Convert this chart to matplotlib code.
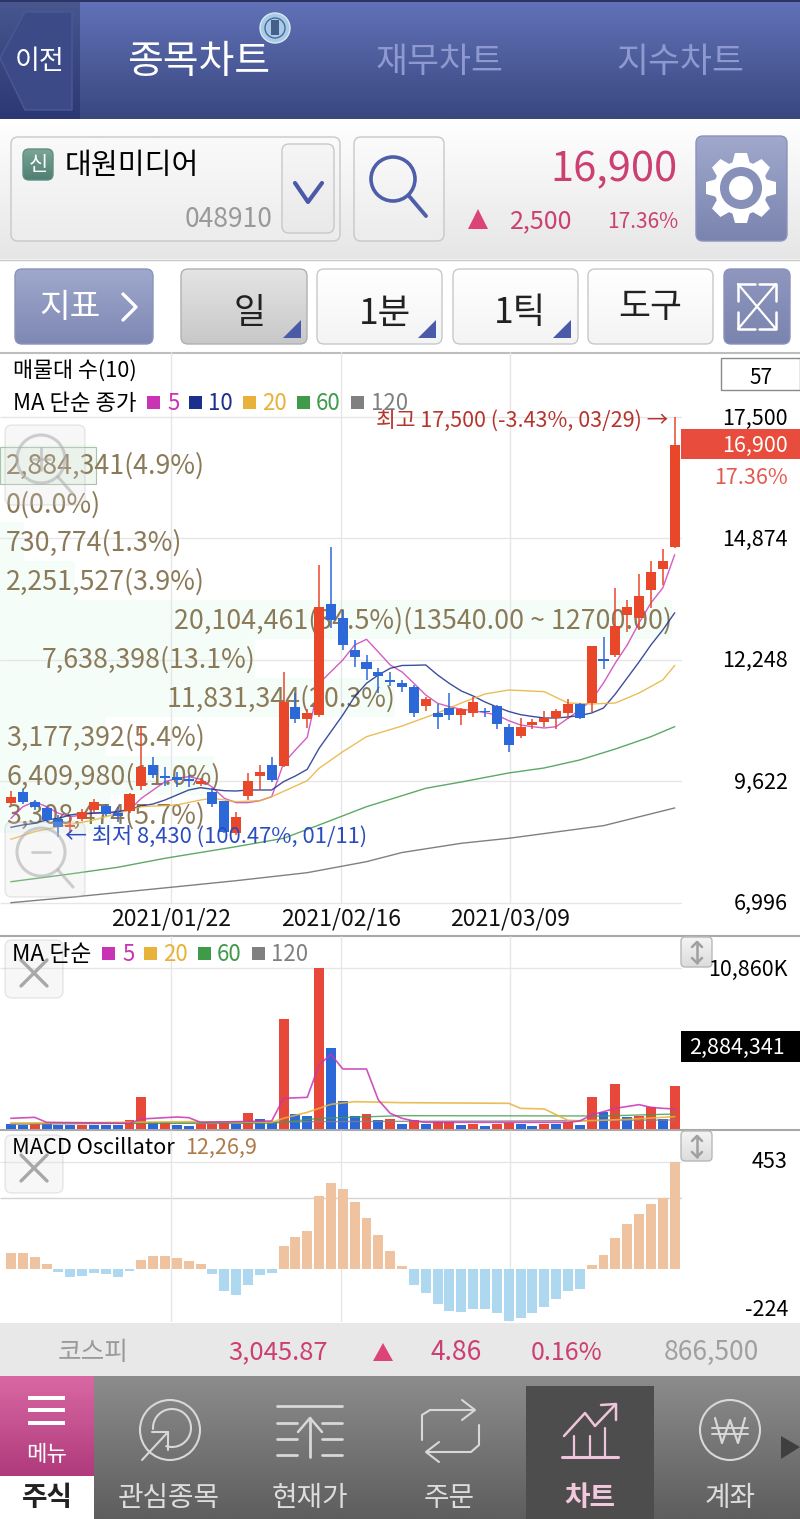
import numpy as np
import matplotlib
matplotlib.use("Agg")
import matplotlib.pyplot as plt
from matplotlib.patches import FancyBboxPatch, Polygon, Circle, Rectangle, Arc
from matplotlib.colors import to_rgb

plt.rcParams['font.family'] = ['Noto Sans CJK KR', 'DejaVu Sans']

# ---- data ----
high = [9420,9453,9222,9077,8898,8826,9027,9244,9136,9077,9367,10821,10145,9929,9834,9762,9691,9475,9207,8969,
        9812,9978,10145,11995,11529,11183,14301,14697,13329,12680,12356,12075,11989,11816,11708,11455,11297,11541,11204,11455,
        11204,11275,10865,10987,10966,11153,11183,11399,11312,12551,12752,13798,13545,14100,14394,14647,17500]
low = [9114,9136,9006,8753,8430,8515,8775,8969,8876,8753,8948,9438,9691,9525,9509,9496,9525,9064,8509,8466,
       9222,9438,9617,9942,10893,10772,11023,12940,12464,12103,11816,11535,11686,11563,11016,11153,10750,10952,10843,11009,
       11009,10750,10267,10556,10750,10793,10750,10966,10966,11131,12047,12320,12860,12897,13366,13869,14675]
body_top = [9293,9401,9185,9049,8805,8688,8969,9185,9092,8935,9352,9929,9978,9741,9713,9669,9639,9401,9207,8861,
            9639,9834,9978,11347,11239,11096,13400,13459,13149,12464,12212,11995,11816,11758,11658,11399,11096,11204,11189,11347,
            11153,11254,10807,10793,10915,10987,11153,11297,11297,12551,12263,12983,13400,13638,14144,14394,16900]
body_bot = [9164,9185,9077,8790,8645,8645,8805,9006,8919,8883,8978,9525,9762,9697,9654,9639,9568,9146,8537,8502,
            9308,9747,9654,9957,10967,10967,11060,13113,12572,12320,12047,11902,11779,11671,11109,11254,11023,11060,11060,11109,
            11124,10858,10412,10606,10843,10915,10987,11109,10987,11312,12220,12356,13221,13149,13761,14215,14697]
is_up = [1,0,0,0,0,1,1,1,0,0,1,1,0,0,0,0,1,0,0,1,
         1,1,0,1,0,1,1,0,0,0,0,0,0,0,0,1,0,0,1,1,
         0,0,0,1,1,1,1,1,0,1,0,1,1,1,1,1,1]

ma5 = [8826,9077,9185,9077,8935,8861,8898,8948,8948,8948,9006,9259,9438,9618,9691,9726,9669,9496,9259,9164,
       9164,9207,9293,10015,10303,10577,11744,11995,12248,12572,12695,12421,12140,11988,11744,11491,11312,11238,11182,11152,
       11109,11059,10936,10843,10806,10778,10806,10988,11167,11383,11751,12183,12572,13047,13480,13804,14517]
ma10 = [8632,8682,8718,8790,8826,8898,8935,8935,8948,8969,9021,9092,9136,9222,9330,9438,9488,9453,9423,9416,
        9438,9438,9438,9618,9741,9885,10339,10698,11059,11455,11744,11924,12068,12129,12133,12140,11924,11740,11578,11470,
        11340,11232,11135,11066,11027,10994,10994,11016,11048,11102,11210,11513,11859,12205,12572,12896,13264]
ma20_x = [0,2,4,7,10,11,14,16,17,19,21,22,25,26,28,30,33,36,38,40,42,45,47,49,51,53,55,56]
ma20 = [8373,8537,8645,8790,9006,9077,9114,9222,9259,9185,9207,9293,9639,9907,10266,10590,10821,11102,11318,11513,11599,11563,11318,11297,11318,11534,11816,12125]
ma60_x = [0,5,9,13,19,23,26,30,33,35,38,42,45,48,51,54,56]
ma60 = [7456,7623,7767,7962,8213,8394,8682,9077,9315,9475,9611,9806,9914,10087,10324,10590,10806]
ma120_x = [0,5,14,19,25,30,33,38,42,50,56]
ma120 = [7002,7119,7348,7478,7651,7889,8087,8286,8394,8667,9049]

band_tops = [16900,16060,15220,14380,13540,12700,11860,11020,10180,9340]
band_vols = [2884341,0,730774,2251527,20104461,7638398,11831344,3177392,6409980,3308474]
band_labels = ['2,884,341(4.9%)','0(0.0%)','730,774(1.3%)','2,251,527(3.9%)','20,104,461(34.5%)(13540.00 ~ 12700.00)',
               '7,638,398(13.1%)','11,831,344(20.3%)','3,177,392(5.4%)','6,409,980(11.0%)','3,308,474(5.7%)']

volume = [360,270,405,315,270,270,248,270,248,248,608,2140,473,473,270,225,315,315,405,338,
          1104,653,496,7435,1036,901,10860,5452,1893,901,1014,608,653,360,586,315,496,496,270,360,
          225,315,405,360,225,360,315,451,270,2185,1172,3042,834,856,1464,676,2884]
vol_up = [0,0,1,0,0,0,1,0,0,0,1,1,0,1,0,0,1,1,1,0,
          1,0,0,1,0,0,1,0,0,0,1,0,1,0,1,0,1,1,0,1,
          0,1,1,0,0,1,0,1,0,1,0,1,0,1,1,0,1]
vma5_x = [0,2,3,10,11,14,15,16,22,23,25,26,27,28,30,31,32,33,34,35,47,48,49,50,51,53,54,55,56]
vma5 = [721,789,451,383,676,811,766,451,541,2073,2140,4326,5047,4055,4055,1960,1059,721,541,451,451,541,946,1172,1397,1645,1464,1397,1352]
vma20_x = [0,15,22,23,25,27,29,33,42,43,45,47,48,52,56]
vma20 = [383,496,451,721,1127,1667,1847,1780,1735,1397,1352,586,541,653,834]
vma60_x = [0,22,26,33,50,56]
vma60 = [383,383,721,901,879,1014]
vma120_x = [0,25,42,56]
vma120 = [315,496,541,608]

macd = [65,65,51,18,-14,-34,-30,-17,-23,-34,-11,37,52,52,44,31,20,-24,-93,-110,
        -68,-28,-17,97,135,159,309,364,339,284,213,141,75,13,-68,-103,-151,-178,-182,-169,
        -171,-188,-222,-209,-188,-162,-128,-93,-87,16,56,128,190,233,275,301,453]

price_ticks = [17500,14874,12248,9622,6996]
price_labels = ['17,500','14,874','12,248','9,622','6,996']
date_pos = [13.5,27.85,42.13]
date_labels = ['2021/01/22','2021/02/16','2021/03/09']

RED = '#e8472a'
BLUE = '#2c68d8'
VRED = '#e8483a'
PINK = '#cc3f72'
MAGENTA = '#c934b4'
NAVY = '#1c2f8c'
TAN = '#e8b23a'
GREEN = '#3f9b4a'
GRAY = '#808080'
GRID = '#e6e6e6'
W, H = 800, 1519
PITCH = 11.85
xlim = ((0-11)/PITCH, (682-11)/PITCH)
idx = np.arange(len(macd))

fig = plt.figure(figsize=(8, 15.19), dpi=100)

def make_px_axes(z):
    a = fig.add_axes([0, 0, 1, 1], zorder=z)
    a.set_xlim(0, W)
    a.set_ylim(H, 0)
    a.axis('off')
    return a

def panel(top, bottom, z):
    a = fig.add_axes([0, 1-bottom/H, 682/W, (bottom-top)/H], zorder=z)
    a.patch.set_alpha(0)
    a.set_xlim(*xlim)
    a.set_xticks([])
    a.set_yticks([])
    for s in a.spines.values():
        s.set_visible(False)
    return a

def grad(a, x0, y0, x1, y1, c0, c1, clip=None, z=1):
    n = 64
    t = np.linspace(0, 1, n)[:, None, None]
    img = (1-t)*np.array(to_rgb(c0))[None, None, :] + t*np.array(to_rgb(c1))[None, None, :]
    im = a.imshow(img, extent=(x0, x1, y1, y0), aspect='auto', zorder=z, interpolation='bilinear')
    a.set_xlim(0, W)
    a.set_ylim(H, 0)
    if clip is not None:
        im.set_clip_path(clip)
    return im

def button(a, x0, y0, x1, y1, c0, c1, edge='#c8c8c8', r=7, z=2):
    box = FancyBboxPatch((x0+r, y0+r), x1-x0-2*r, y1-y0-2*r, boxstyle='round,pad=%d,rounding_size=%d' % (r, r),
                         fc='none', ec=edge, lw=1, zorder=z+0.1)
    a.add_patch(box)
    grad(a, x0, y0, x1, y1, c0, c1, clip=box, z=z)

def tx(a, x, y, s, size, color='black', ha='left', weight='normal', z=10, alpha=None):
    a.text(x, y+1.5, s, fontsize=size, color=color, ha=ha, va='center', fontweight=weight, zorder=z, alpha=alpha)

def line(a, xs, ys, color, lw=1.5, z=6, alpha=None):
    a.plot(xs, ys, color=color, lw=lw, zorder=z, solid_capstyle='round', alpha=alpha)

# ---- background chrome ----
bg = make_px_axes(0)
bg.add_patch(Rectangle((0, 0), W, H, fc='white', zorder=0))
grad(bg, 0, 0, W, 119, '#6272b8', '#39477f')
grad(bg, 0, 0, 80, 119, '#48578f', '#2c3873', z=1.5)
bg.add_patch(Rectangle((0, 0), W, 1.5, fc='#2b3566', zorder=2))
bg.add_patch(Polygon([(0, 58), (25, 12), (72, 12), (72, 110), (25, 110)], closed=True, fc='#3d4a88', ec='#4a5896', lw=1, zorder=2))
tx(bg, 40, 60, '이전', 19.5, 'white', 'center')
tx(bg, 199, 61, '종목차트', 28, 'white', 'center', 'medium')
tx(bg, 440, 61, '재무차트', 25, '#8d99cf', 'center')
tx(bg, 680, 61, '지수차트', 25, '#8d99cf', 'center')
bg.add_patch(Circle((275, 28), 15, fc='#a9cbe8', ec='#d8e8f5', lw=1, zorder=3))
bg.add_patch(Circle((275, 28), 10, fc='none', ec='#4a6a9a', lw=1, zorder=4))
bg.add_patch(Rectangle((271, 20), 8, 15, fc='#44608a', zorder=4))

grad(bg, 0, 119, W, 259, '#ffffff', '#e6e6e6')
bg.plot([0, W], [259.5, 259.5], color='#c8c8c8', lw=1, zorder=2)
button(bg, 11, 137, 340, 241, '#fafafa', '#ececec')
button(bg, 23, 149, 53, 180, '#7ba597', '#4f7f72', edge='#5f8f82', r=6)
tx(bg, 38, 164, '신', 15, 'white', 'center')
tx(bg, 65, 164, '대원미디어', 21)
tx(bg, 272, 218, '048910', 19, '#999999', 'right')
button(bg, 282, 144, 334, 233, '#f6f6f6', '#e9e9e9')
line(bg, [295, 308, 322], [183, 202, 183], '#4a5aa8', 3, 5)
button(bg, 354, 137, 444, 241, '#fbfbfb', '#ececec')
bg.add_patch(Circle((393, 179), 22, fc='none', ec='#4f5ea8', lw=2.6, zorder=5))
line(bg, [409, 426], [196, 216], '#4f5ea8', 2.8, 5)
tx(bg, 678, 168, '16,900', 30, PINK, 'right')
bg.add_patch(Polygon([(468, 229), (478, 209), (488, 229)], fc='#db4379', zorder=5))
tx(bg, 572, 220, '2,500', 18, PINK, 'right')
tx(bg, 678, 220, '17.36%', 15, PINK, 'right')
button(bg, 696, 136, 787, 241, '#a0a8cc', '#7a84ae', edge='#8a93bb')
gx, gy = 741, 188
for ang in np.arange(0, 360, 45):
    c, s = np.cos(np.radians(ang)), np.sin(np.radians(ang))
    bg.add_patch(Polygon([(gx+24*c-9*s, gy+24*s+9*c), (gx+35*c-6*s, gy+35*s+6*c), (gx+35*c+6*s, gy+35*s-6*c), (gx+24*c+9*s, gy+24*s-9*c)], fc='white', zorder=5))
bg.add_patch(Circle((gx, gy), 27, fc='white', zorder=5))
bg.add_patch(Circle((gx, gy), 21, fc='#8790b8', zorder=6))
bg.add_patch(Circle((gx, gy), 12, fc='white', zorder=7))

button(bg, 15, 269, 153, 344, '#9fa8cc', '#7e88b4', edge='#8a93bb')
tx(bg, 70, 306, '지표', 24, 'white', 'center')
line(bg, [123, 136, 123], [294, 307, 320], 'white', 2.4, 5)
button(bg, 181, 269, 307, 344, '#e4e4e4', '#c8c8c8', edge='#b0b0b0')
for x0, x1 in [(317, 442), (453, 578), (588, 713)]:
    button(bg, x0, 269, x1, 344, '#ffffff', '#f4f4f4')
tx(bg, 250, 312, '일', 25, '#222222', 'center')
tx(bg, 385, 312, '1분', 25.5, '#222222', 'center')
tx(bg, 520, 312, '1틱', 25.5, '#222222', 'center')
tx(bg, 650, 306, '도구', 25, '#222222', 'center')
for xr in [301, 436, 571]:
    bg.add_patch(Polygon([(xr, 320), (xr, 338), (xr-18, 338)], fc='#4a5aa8', zorder=5))
button(bg, 724, 269, 790, 344, '#8f97bf', '#7a84ae', edge='#8a93bb')
line(bg, [738, 776], [284, 329], 'white', 1.6, 5)
line(bg, [776, 738], [284, 329], 'white', 1.6, 5)
for px, py, dx, dy in [(738, 284, 1, 1), (776, 284, -1, 1), (738, 329, 1, -1), (776, 329, -1, -1)]:
    line(bg, [px+dx*17, px, px], [py, py, py+dy*17], 'white', 1.8, 5)

bg.plot([0, W], [352.5, 352.5], color='#bdbdbd', lw=1.5, zorder=2)
bg.plot([0, W], [935.5, 935.5], color='#a8a8a8', lw=1.5, zorder=2)
bg.plot([0, W], [1129.5, 1129.5], color='#a8a8a8', lw=1.5, zorder=2)

# bottom status and nav
bg.add_patch(Rectangle((0, 1323), W, 53, fc='#e8e8e8', zorder=1))
tx(bg, 93, 1352, '코스피', 18.5, '#9a9a9a', 'center')
tx(bg, 278, 1351, '3,045.87', 18.5, PINK, 'center')
bg.add_patch(Polygon([(373, 1361), (383, 1343), (393, 1361)], fc='#db4379', zorder=5))
tx(bg, 456, 1351, '4.86', 19, PINK, 'center')
tx(bg, 567, 1351, '0.16%', 18, PINK, 'center')
tx(bg, 711, 1351, '866,500', 19, '#a0a0a0', 'center')
grad(bg, 0, 1376, W, 1519, '#8c8c8c', '#5e5e5e')
grad(bg, 0, 1376, 94, 1476, '#d868a4', '#b03a7c', z=2)
bg.add_patch(Rectangle((0, 1476), 94, 43, fc='white', zorder=2))
for yy in [1398, 1410, 1423]:
    bg.add_patch(Rectangle((28, yy-1.8), 37, 3.6, fc='white', zorder=3))
tx(bg, 47, 1453, '메뉴', 16, 'white', 'center')
tx(bg, 47, 1497, '주식', 20, '#222222', 'center', 'bold')
bg.add_patch(Rectangle((526, 1386), 128, 133, fc='#4d4d4d', zorder=2))
tx(bg, 169, 1497, '관심종목', 20, '#dddddd', 'center')
tx(bg, 310, 1497, '현재가', 20, '#dddddd', 'center')
tx(bg, 449, 1497, '주문', 20, '#dddddd', 'center')
tx(bg, 590, 1497, '차트', 20, '#f2c8dc', 'center', 'bold')
tx(bg, 730, 1497, '계좌', 20, '#dddddd', 'center')
ICON = '#d8d8d8'
bg.add_patch(Circle((170, 1430), 30, fc='none', ec=ICON, lw=1.5, zorder=5))
bg.add_patch(Arc((172, 1428), 38, 38, angle=0, theta1=175, theta2=470, ec=ICON, lw=1.5, zorder=5))
line(bg, [142, 168], [1460, 1432], ICON, 1.5)
line(bg, [152, 168, 168], [1432, 1432, 1450], ICON, 1.5)
line(bg, [277, 342], [1406, 1406], ICON, 2)
line(bg, [310, 310], [1457, 1418], ICON, 2)
line(bg, [298, 310, 322], [1432, 1418, 1432], ICON, 1.8)
for yy in [1423, 1439, 1455]:
    line(bg, [277, 297], [yy, yy], ICON, 2)
    line(bg, [322, 342], [yy, yy], ICON, 2)
line(bg, [422, 422, 430, 474], [1440, 1415, 1410, 1410], ICON, 1.5)
line(bg, [462, 475, 462], [1400, 1410, 1420], ICON, 1.5)
line(bg, [479, 479, 471, 427], [1425, 1445, 1452, 1452], ICON, 1.5)
line(bg, [439, 426, 439], [1442, 1452, 1462], ICON, 1.5)
CH = '#f0c4da'
line(bg, [562, 618], [1457, 1457], CH, 2.2)
for xx in [574, 590]:
    line(bg, [xx, xx], [1457, 1436], CH, 1.6)
line(bg, [605, 605], [1457, 1428], CH, 1.6)
line(bg, [564, 585, 595, 615], [1436, 1413, 1426, 1405], CH, 1.8)
line(bg, [601, 616, 616], [1405, 1404, 1420], CH, 1.8)
bg.add_patch(Circle((730, 1430), 30, fc='none', ec=ICON, lw=1.5, zorder=5))
line(bg, [715, 722, 730, 738, 745], [1418, 1443, 1420, 1443, 1418], ICON, 1.6)
line(bg, [712, 748], [1428, 1428], ICON, 1.4)
line(bg, [712, 748], [1434, 1434], ICON, 1.4)
bg.add_patch(Polygon([(781, 1436), (800, 1447), (781, 1459)], fc='#3f3f3f', zorder=5))

# ---- price panel ----
vp = panel(352, 935, 1)
vp.set_ylim(6304, 18904)
vp.set_xlim(0, 20104461*682/672)
vp.barh(band_tops, band_vols, height=-840, align='edge', color='#f5fdf8', zorder=1)
vp.barh(band_tops[0]-40, band_vols[0], height=-800, align='edge', fc='#f0f7f0', ec='#a6c4aa', lw=0.8, zorder=1)

pr = panel(352, 935, 2)
pr.set_ylim(6304, 18904)
pr.hlines(price_ticks, xlim[0], xlim[1], color=GRID, lw=1, zorder=1)
pr.vlines(date_pos, 6996, 18904, color=GRID, lw=1, zorder=1)
# volume-profile labels sit under the candles
for k, s in enumerate(band_labels):
    yc = band_tops[k]-455
    bar_end = band_vols[k]/20104461*672
    if k in (4, 5, 6):
        pr.text((bar_end-11)/PITCH, yc, s, fontsize=19.3, color='#8a7a58', ha='right', va='center', zorder=2)
    else:
        pr.text((6-11)/PITCH, yc, s, fontsize=19.3, color='#8a7a58', ha='left', va='center', zorder=2)
pr.plot(idx, ma5, color=MAGENTA, lw=1, zorder=4, alpha=0.8)
pr.plot(idx, ma10, color=NAVY, lw=1, zorder=4, alpha=0.85)
pr.plot(ma20_x, ma20, color=TAN, lw=1, zorder=4, alpha=0.85)
pr.plot(ma60_x, ma60, color=GREEN, lw=1, zorder=4, alpha=0.85)
pr.plot(ma120_x, ma120, color=GRAY, lw=1, zorder=4)
up = np.array(is_up, dtype=bool)
cols = np.where(up, RED, BLUE)
pr.vlines(idx, low, high, colors=cols, lw=1.1, zorder=5)
pr.bar(idx, np.array(body_top)-np.array(body_bot), bottom=body_bot, width=0.85, color=cols, zorder=6)

# ---- volume panel ----
vo = panel(936, 1129, 2)
vo.set_ylim(0, 13043)
vo.hlines([10860], xlim[0], xlim[1], color=GRID, lw=1, zorder=1)
vo.vlines(date_pos, 0, 13043, color=GRID, lw=1, zorder=1)
vo.bar(idx, volume, width=0.84, color=np.where(np.array(vol_up, dtype=bool), VRED, BLUE), zorder=3)
vo.plot(vma120_x, vma120, color=GRAY, lw=1, zorder=4, alpha=0.8)
vo.plot(vma60_x, vma60, color=GREEN, lw=1, zorder=4, alpha=0.8)
vo.plot(vma20_x, vma20, color=TAN, lw=1.2, zorder=4, alpha=0.85)
vo.plot(vma5_x, vma5, color=MAGENTA, lw=1.2, zorder=4, alpha=0.85)

# ---- MACD panel ----
mc = panel(1130, 1322, 2)
mc.set_ylim(-226, 587)
mc.hlines([453], xlim[0], xlim[1], color=GRID, lw=1, zorder=1)
mc.hlines([300], xlim[0], xlim[1], color='#d4d4d4', lw=1, zorder=1)
mc.vlines(date_pos, -226, 587, color=GRID, lw=1, zorder=1)
m = np.array(macd)
mc.bar(idx, m, width=0.84, color=np.where(m >= 0, '#efc2a0', '#aed8f0'), zorder=3)

# ---- texts and floating buttons on top ----
top = make_px_axes(5)
top.patch.set_alpha(0)

def legend_row(y, items):
    for sx, s, c, tx_x in items:
        top.add_patch(Rectangle((sx, y-6), 12.5, 12.5, fc=c, zorder=9))
        tx(top, tx_x, y, s, 16, c, weight='medium')

tx(top, 13, 369, '매물대 수(10)', 15.7, weight='medium')
tx(top, 13, 402, 'MA 단순 종가', 16, weight='medium')
legend_row(402, [(147, '5', MAGENTA, 167), (189, '10', NAVY, 208), (243, '20', TAN, 262), (297, '60', GREEN, 316), (351, '120', GRAY, 371)])
top.add_patch(Rectangle((721, 358), 79, 32, fc='white', ec='#8a8a8a', lw=1, zorder=3))
tx(top, 761, 376, '57', 15, 'black', 'center')
for v, s, yp in zip(price_ticks, price_labels, [417, 538, 659, 781, 902]):
    tx(top, 788, yp, s, 15.5, 'black', 'right')
top.add_patch(Rectangle((681, 429), 119, 30, fc='#e74c3c', zorder=8))
tx(top, 788, 444, '16,900', 15.5, 'white', 'right')
tx(top, 788, 476, '17.36%', 15.5, '#e25a50', 'right', 'medium')
tx(top, 376, 419, '최고 17,500 (-3.43%, 03/29) →', 15.5, '#b5352c', 'left', 'medium')
tx(top, 65, 836, '← 최저 8,430 (100.47%, 01/11)', 15.8, '#2a4cc0', 'left', 'medium')
for x, s in zip([171, 341, 510], date_labels):
    tx(top, x, 918, s, 16.5, '#111111', 'center', 'medium')

tx(top, 12, 953, 'MA 단순', 16.4, weight='medium')
legend_row(953, [(102, '5', MAGENTA, 122), (144, '20', TAN, 163), (198, '60', GREEN, 217), (252, '120', GRAY, 271)])
tx(top, 788, 968, '10,860K', 15.5, 'black', 'right')
top.add_patch(Rectangle((681, 1031), 119, 31, fc='black', zorder=8))
tx(top, 785, 1046, '2,884,341', 15.5, 'white', 'right', 'medium')
tx(top, 12, 1146, 'MACD Oscillator', 15.7, weight='medium')
tx(top, 185, 1146, '12,26,9', 15.5, '#b07a48', weight='medium')
tx(top, 788, 1161, '453', 15.5, 'black', 'right')
tx(top, 788, 1309, '-224', 15.5, 'black', 'right')

def soft_box(x0, y0, x1, y1):
    box = FancyBboxPatch((x0+7, y0+7), x1-x0-14, y1-y0-14, boxstyle='round,pad=7,rounding_size=7',
                         fc='#dddddd', ec='#999999', lw=1, alpha=0.22, zorder=7)
    top.add_patch(box)

def glass(cx, cy):
    top.add_patch(Circle((cx, cy), 24, fc='none', ec='#b0b0b0', lw=2.2, zorder=8, alpha=0.6))
    line(top, [cx+17, cx+32], [cy+18, cy+35], '#b0b0b0', 2.2, 8, 0.6)
    line(top, [cx-9, cx+9], [cy, cy], '#b0b0b0', 2, 8, 0.6)

soft_box(5, 425, 85, 505)
glass(41, 459)
line(top, [41, 41], [448, 470], '#b0b0b0', 2, 8, 0.6)
soft_box(5, 822, 85, 897)
glass(41, 852)
for y0 in [940, 1135]:
    soft_box(5, y0, 63, y0+58)
    line(top, [21, 47], [y0+20, y0+46], '#a8a8a8', 2.4, 8)
    line(top, [47, 21], [y0+20, y0+46], '#a8a8a8', 2.4, 8)
for y0 in [937, 1131]:
    button(top, 681, y0, 712, y0+30, '#f4f4f4', '#dcdcdc', edge='#b8b8b8', r=4, z=8)
    line(top, [697, 697], [y0+5, y0+26], '#a0a0a0', 1.8, 9)
    line(top, [692, 697, 702], [y0+10, y0+5, y0+10], '#a0a0a0', 1.8, 9)
    line(top, [692, 697, 702], [y0+21, y0+26, y0+21], '#a0a0a0', 1.8, 9)

fig.savefig('out.png', dpi=100)
